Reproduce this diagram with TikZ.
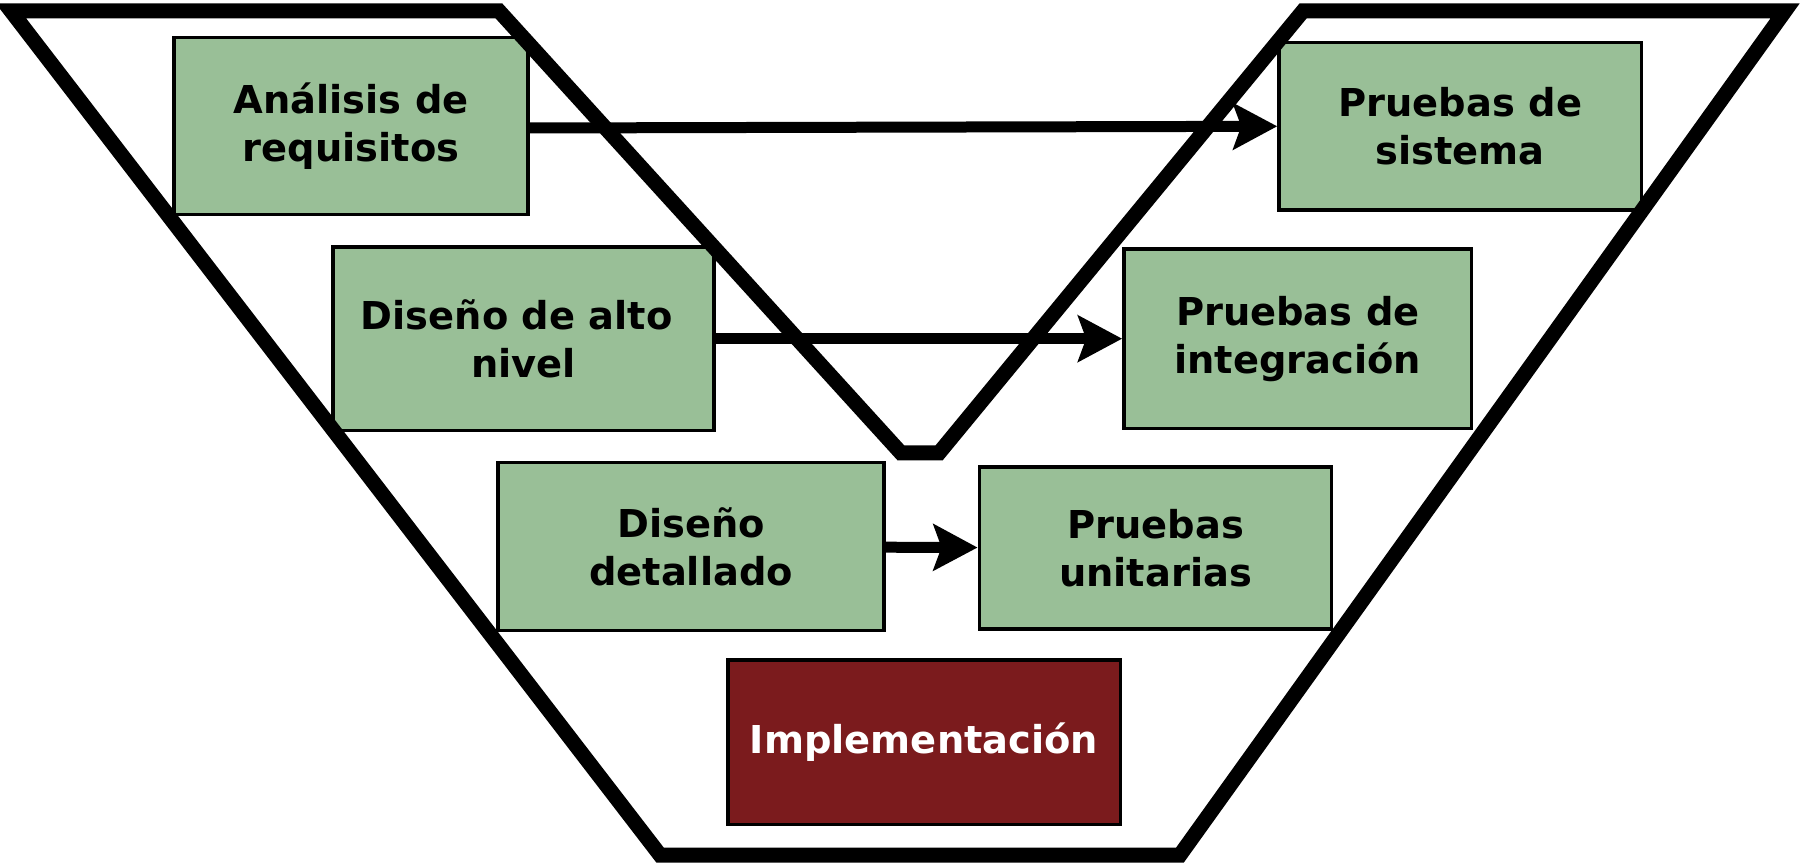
\documentclass[tikz,border=0pt]{standalone}
\usepackage{fontspec}
\setmainfont{DejaVu Sans}
\usetikzlibrary{arrows.meta}
\definecolor{verdefase}{RGB}{153,191,151}
\definecolor{rojofase}{RGB}{123,27,29}

\begin{document}
\begin{tikzpicture}[x=0.5pt,y=-0.5pt,
    fase/.style={draw=black,line width=1.75pt,fill=verdefase,align=center,
      font=\fontsize{19.2}{24}\selectfont\bfseries,inner sep=0pt},
    implfase/.style={fase,fill=rojofase,text=white},
    paso/.style={line width=5.5pt,
      -{Stealth[length=22pt,width=23pt,inset=4pt]}}]

        \useasboundingbox (0,0) rectangle (1800,865);

        \node[fase,minimum width=176.8pt,minimum height=88.4pt]     (req)   at (351,126)    {Análisis de\\requisitos};
        \node[fase,minimum width=190.6pt,minimum height=91.9pt]     (alto)  at (523.5,338.7) {Diseño de alto\kern0.35em\\nivel};
        \node[fase,minimum width=192.9pt,minimum height=83.8pt]     (det)   at (691.1,546.5) {Diseño\\detallado};
        \node[implfase,minimum width=196.3pt,minimum height=82.1pt] (impl)  at (924.1,742.2) {Implementación};
        \node[fase,minimum width=176.2pt,minimum height=81pt]       (unit)  at (1155.5,548.2) {Pruebas\\unitarias};
        \node[fase,minimum width=173.9pt,minimum height=89.6pt]     (integ) at (1297.8,338.7) {Pruebas de\\integración};
        \node[fase,minimum width=181.3pt,minimum height=83.8pt]     (sist)  at (1460.3,126.3) {Pruebas de\\sistema};

        % contorno en V
        \draw[line width=7.5pt] (11,11) -- (499,11) -- (901,453) -- (939,453)
              -- (1303,11) -- (1785,11) -- (1180,855) -- (660,855) -- cycle;

        \path[paso] ([yshift=-1pt]req.east) edge (sist.west)
                    (alto) edge (integ)
                    (det)  edge (unit);
      \end{tikzpicture}
\end{document}
